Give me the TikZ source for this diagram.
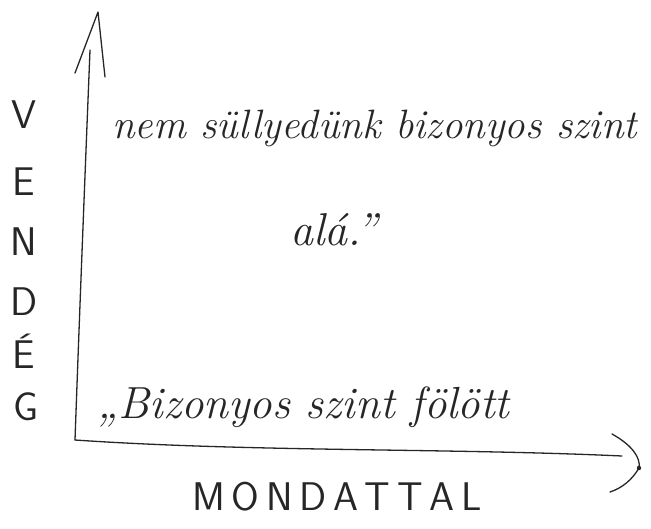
\documentclass[tikz,border=0pt]{standalone}
\begin{document}
\begin{tikzpicture}[x=1pt,y=-1pt,
  pen/.style={line width=1.3pt,draw=black!85,line cap=round,line join=round},
  hand/.style={font=\fontsize{38}{40}\selectfont\itshape,text=black!85,inner sep=0pt},
  capital/.style={font=\fontsize{40}{40}\selectfont\sffamily,text=black!85,inner sep=0pt}]
\useasboundingbox (0,0) rectangle (651,528);
% axes
\coordinate (o) at (75,440);
\coordinate (ytop) at (90,50);
\coordinate (ytip) at (98,12);
\coordinate (yl) at (75,73);
\coordinate (yr) at (105,77);
\coordinate (xend) at (622,456);
\coordinate (xa) at (612,434);
\coordinate (xtip) at (639,468);
\coordinate (xb) at (610,492);
\draw[pen] (o) .. controls (80,300) and (86,150) .. (ytop);
\draw[pen] (yl) -- (ytip) -- (yr);
\draw[pen] (o) .. controls (250,452) and (450,448) .. (xend);
\draw[pen] (xa) .. controls (632,445) and (641,458) .. (xtip) .. controls (632,480) and (622,488) .. (xb);
\fill[black!85] (xtip) circle (2.2pt);
% texts
\node[hand,font=\fontsize{41}{44}\selectfont\itshape,anchor=base west] (t1) at (112,138) {nem süllyedünk bizonyos szint};
\node[hand,font=\fontsize{46}{48}\selectfont\itshape,anchor=base west] (t2) at (290,245) {alá.''};
\node[hand,font=\fontsize{45}{48}\selectfont\itshape,anchor=base west] (t3) at (97,418) {,,Bizonyos szint fölött};
\node[capital,anchor=base] (mx) at (337,510) {M\,O\,N\,D\,A\,T\,T\,A\,L};
\node[capital,anchor=base] (v1) at (24,128) {V};
\node[capital,anchor=base] (v2) at (24,195) {E};
\node[capital,anchor=base] (v3) at (24,255) {N};
\node[capital,anchor=base] (v4) at (24,315) {D};
\node[capital,anchor=base] (v5) at (24,368) {É};
\node[capital,anchor=base] (v6) at (26,420) {G};
\end{tikzpicture}
\end{document}
